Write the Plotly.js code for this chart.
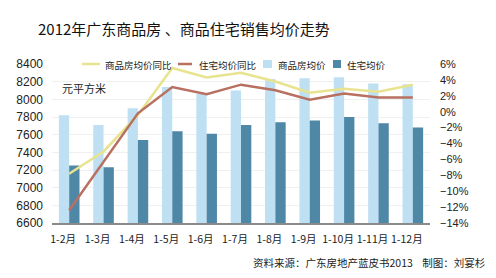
<!DOCTYPE html>
<html>
<head>
<meta charset="utf-8">
<script src="https://cdn.plot.ly/plotly-3.0.1.min.js"></script>
<style>html,body{margin:0;padding:0;background:#fff;}#chart{width:496px;height:278px;}</style>
</head>
<body>
<div id="chart"></div>
<script>
const categories = ['1-2月','1-3月','1-4月','1-5月','1-6月','1-7月','1-8月','1-9月','1-10月','1-11月','1-12月'];
const commercialPrice = [7820, 7710, 7900, 8140, 8060, 8100, 8230, 8240, 8250, 8180, 8170];
const residentialPrice = [7250, 7230, 7540, 7640, 7610, 7710, 7740, 7760, 7800, 7730, 7680];
const commercialYoY = [-7.8, -5.0, -0.4, 5.5, 4.3, 4.9, 3.8, 2.4, 2.9, 2.5, 3.4];
const residentialYoY = [-12.4, -6.3, -0.2, 3.1, 2.2, 3.4, 2.7, 1.5, 2.3, 1.8, 1.8];
const leftTicks = [6600, 6800, 7000, 7200, 7400, 7600, 7800, 8000, 8200, 8400];
const rightTicks = [-14, -12, -10, -8, -6, -4, -2, 0, 2, 4, 6];
const seriesNames = ['商品房均价同比', '住宅均价同比', '商品房均价', '住宅均价'];
const seriesColors = ['#e8e38e', '#b87060', '#bfe0f3', '#4f87a6'];

const FONT = 'Liberation Sans, Arial, Noto Sans CJK SC, sans-serif';
const CJK = 'Noto Sans CJK SC, Liberation Sans, sans-serif';

const traces = [
  {type:'scatter', mode:'lines', name:seriesNames[0], x:categories, y:commercialYoY, yaxis:'y2',
   line:{color:seriesColors[0], width:2.5}},
  {type:'scatter', mode:'lines', name:seriesNames[1], x:categories, y:residentialYoY, yaxis:'y2',
   line:{color:seriesColors[1], width:2.5}},
  {type:'bar', name:seriesNames[2], x:categories, y:commercialPrice, marker:{color:seriesColors[2]}},
  {type:'bar', name:seriesNames[3], x:categories, y:residentialPrice, marker:{color:seriesColors[3]}}
];

// plot area in pixels: x 52..430, y 64..223
const px = v => (v - 52) / 378;
const py = v => (223 - v) / 159;

// custom compact legend (icons are short in the reference)
const legendItems = [
  {kind:'line', x0:82, x1:100, tx:103},
  {kind:'line', x0:178, x1:192, tx:197},
  {kind:'rect', x0:263, x1:272, tx:276},
  {kind:'rect', x0:333, x1:341, tx:345}
];
const shapes = [];
const annotations = [];
legendItems.forEach((it, i) => {
  if (it.kind === 'line') {
    shapes.push({type:'line', xref:'paper', yref:'paper', x0:px(it.x0), x1:px(it.x1), y0:py(64), y1:py(64),
                 line:{color:seriesColors[i], width:2.5}});
  } else {
    shapes.push({type:'rect', xref:'paper', yref:'paper', x0:px(it.x0), x1:px(it.x1), y0:py(68), y1:py(60),
                 line:{width:0}, fillcolor:seriesColors[i]});
  }
  annotations.push({text:seriesNames[i], xref:'paper', yref:'paper', x:px(it.tx), y:py(64.5),
                    xanchor:'left', yanchor:'middle', showarrow:false,
                    font:{family:CJK, size:9.5, color:'#222'}});
});
annotations.push(
  {text:'元平方米', xref:'paper', yref:'paper', x:px(60), y:py(88), xanchor:'left', yanchor:'middle',
   showarrow:false, font:{family:CJK, size:11, color:'#222'}},
  {text:'资料来源：广东房地产蓝皮书2013    制图：刘宴杉', xref:'paper', yref:'paper',
   x:px(487), y:py(262), xanchor:'right', yanchor:'middle',
   showarrow:false, font:{family:CJK, size:10.5, color:'#222'}}
);

const layout = {
  width:496, height:278,
  margin:{l:52, r:66, t:64, b:55},
  paper_bgcolor:'#fff', plot_bgcolor:'#fff',
  font:{family:FONT, color:'#222', size:11},
  barmode:'group', bargap:0.4, bargroupgap:0,
  showlegend:false,
  title:{text:'2012年广东商品房 、商品住宅销售均价走势', x:38/496, xref:'container', xanchor:'left',
         y:1-30/278, yref:'container', yanchor:'middle',
         font:{family:CJK, size:15, color:'#111'}},
  xaxis:{type:'category', tickangle:0, tickfont:{family:CJK, size:10.5, color:'#222'},
         showline:true, linecolor:'#8a8a8a', linewidth:2, ticks:'', showgrid:false,
         ticklabelshift:-6, ticklabelstandoff:5},
  yaxis:{range:[6600, 8400], tickvals:leftTicks, ticktext:leftTicks.map(String),
         tickfont:{family:FONT, size:12, color:'#222'}, showgrid:true, gridcolor:'#f0f0f0',
         zeroline:false, showline:false, ticks:'', ticklabelstandoff:8},
  yaxis2:{range:[-14, 6], overlaying:'y', side:'right', tickvals:rightTicks,
          ticktext:rightTicks.map(v => (v<0 ? '−'+Math.abs(v) : v) + '%'),
          tickfont:{family:FONT, size:11, color:'#222'}, showgrid:false, zeroline:false,
          showline:false, ticks:'', ticklabelstandoff:9},
  shapes:shapes,
  annotations:annotations
};

Plotly.newPlot('chart', traces, layout, {displayModeBar:false, staticPlot:true});
</script>
</body>
</html>
